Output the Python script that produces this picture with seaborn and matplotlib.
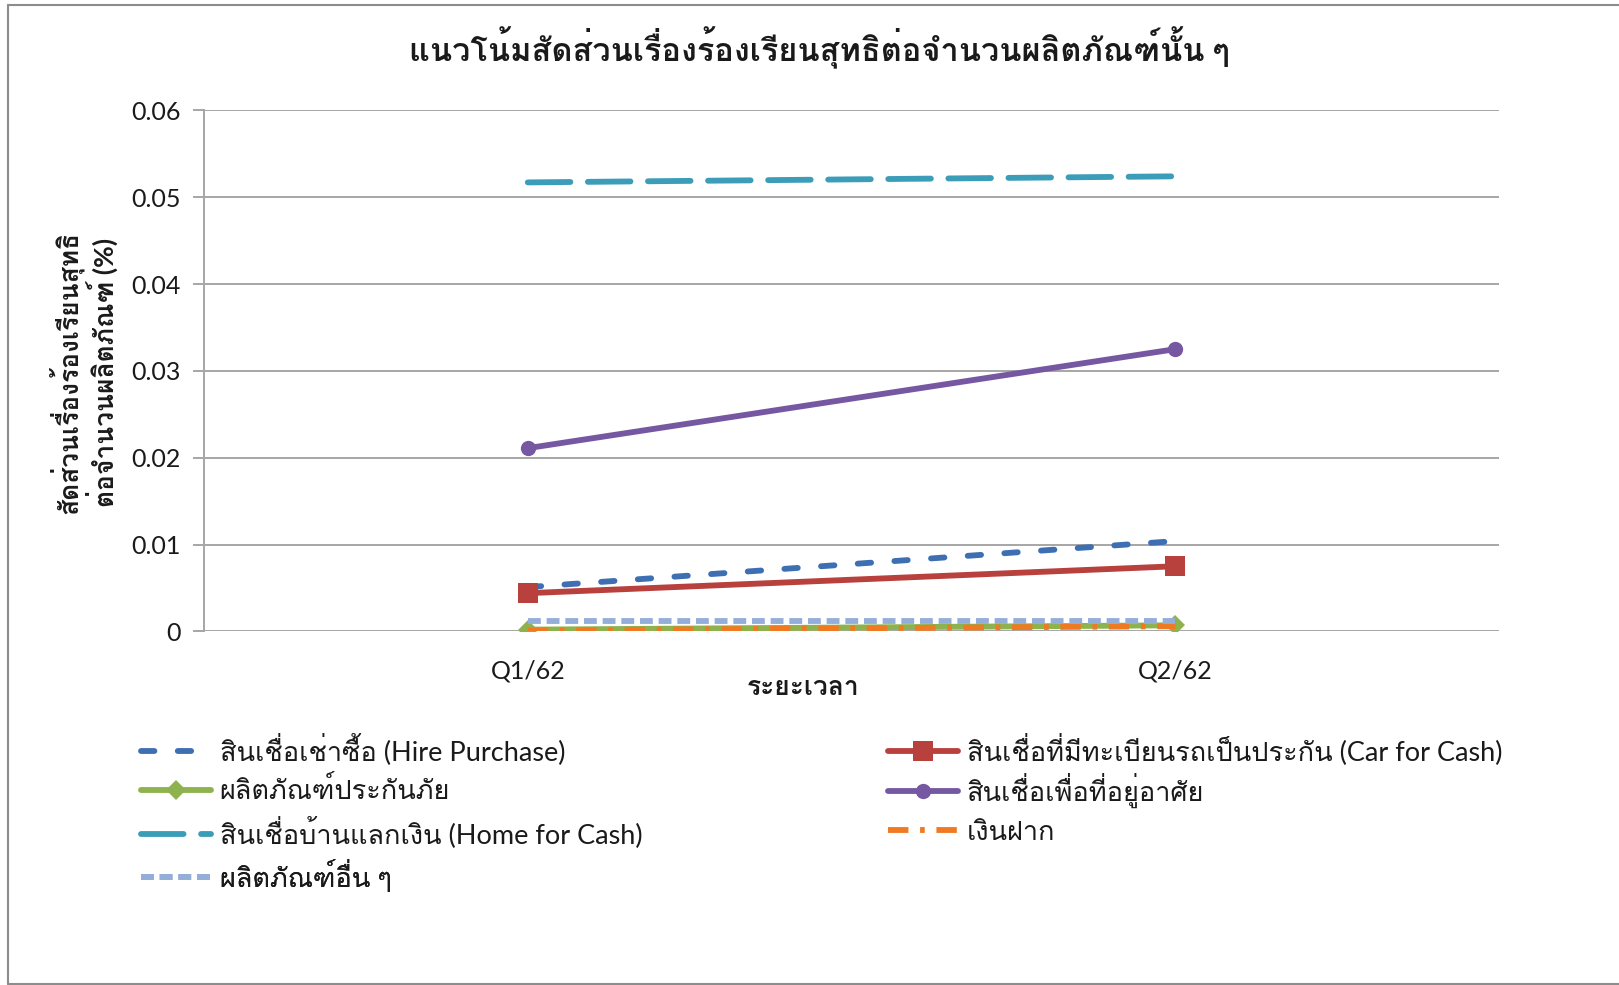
import matplotlib.pyplot as plt
import matplotlib.font_manager as fm
from matplotlib.ft2font import FT2Font
from matplotlib.lines import Line2D
import seaborn as sns


periods = ["Q1/62", "Q2/62"]
hire_purchase = [0.0051, 0.0104]
car_for_cash = [0.0044, 0.0075]
insurance = [0.0002, 0.0007]
housing = [0.0211, 0.0325]
home_for_cash = [0.0517, 0.0524]
deposit = [0.0001, 0.0006]
other = [0.0012, 0.0012]

series_names = [
    "สินเชื่อเช่าซื้อ (Hire Purchase)",
    "สินเชื่อที่มีทะเบียนรถเป็นประกัน (Car for Cash)",
    "ผลิตภัณฑ์ประกันภัย",
    "สินเชื่อเพื่อที่อยู่อาศัย",
    "สินเชื่อบ้านแลกเงิน (Home for Cash)",
    "เงินฝาก",
    "ผลิตภัณฑ์อื่น ๆ",
]
y_ticks = [0, 0.01, 0.02, 0.03, 0.04, 0.05, 0.06]
y_tick_labels = ["0", "0.01", "0.02", "0.03", "0.04", "0.05", "0.06"]

title = "แนวโน้มสัดส่วนเรื่องร้องเรียนสุทธิต่อจำนวนผลิตภัณฑ์นั้น ๆ"
x_title = "ระยะเวลา"
y_title = "สัดส่วนเรื่องร้องเรียนสุทธิ\nต่อจำนวนผลิตภัณฑ์ (%)"


def thai_family():
    # first installed font that has Thai glyphs (Loma here)
    names = [f.name for f in fm.fontManager.ttflist]
    if "Loma" in names:
        return "Loma"
    for f in fm.fontManager.ttflist:
        try:
            if 0x0E01 in FT2Font(f.fname).get_charmap():
                return f.name
        except Exception:
            pass
    return "DejaVu Sans"


sns.set_theme(style="white")
plt.rcParams["font.family"] = ["Lato", thai_family(), "DejaVu Sans"]

fig = plt.figure(figsize=(16.19, 9.85), dpi=100)
ax = fig.add_axes([0.126, 0.359, 0.80, 0.529])

lw = 4.2
styles = [
    dict(color="#3D6FB2", dashes=(2.3, 4.0), dash_capstyle="round"),
    dict(color="#B8403D", marker="s", markersize=15),
    dict(color="#8DB24E", marker="D", markersize=10),
    dict(color="#7658A2", marker="o", markersize=11),
    dict(color="#3C9DB9", dashes=(7.3, 3.0), dash_capstyle="round"),
    dict(color="#F07A22", dashes=(3.5, 2.0, 0.8, 2.0), dash_capstyle="butt"),
    dict(color="#94AEDA", dashes=(2.2, 1.0), dash_capstyle="butt"),
]
data = [hire_purchase, car_for_cash, insurance, housing, home_for_cash, deposit, other]

handles = []
for values, name, st in zip(data, series_names, styles):
    sns.lineplot(x=periods, y=values, ax=ax, linewidth=lw, markeredgewidth=0,
                 legend=False, **st)
    handles.append(Line2D([], [], linewidth=lw, markeredgewidth=0, **st))

ax.set_xlim(-0.5, 1.5)
ax.set_ylim(0, 0.06)
ax.set_yticks(y_ticks)
ax.set_yticklabels(y_tick_labels)
ax.yaxis.grid(True, color="#A6A6A6", linewidth=1.4)
ax.set_axisbelow(True)
for side in ["top", "right", "bottom"]:
    ax.spines[side].set_visible(False)
ax.spines["left"].set_color("#A6A6A6")
ax.spines["left"].set_linewidth(1.4)
ax.tick_params(axis="y", left=True, length=8, width=1.4, color="#A6A6A6",
               labelsize=18, labelcolor="#1A1A1A", pad=9)
ax.tick_params(axis="x", bottom=False, labelsize=18, labelcolor="#1A1A1A", pad=14)
ax.set_xlabel("")
ax.set_ylabel("")

fig.text(0.506, 1 - 48 / 985, title, ha="center", va="center",
         fontsize=23.4, fontweight="bold", color="#1A1A1A")
fig.text(0.496, 1 - 687 / 985, x_title, ha="center", va="center",
         fontsize=19, fontweight="bold", color="#1A1A1A")
fig.text(83 / 1619, 1 - 372 / 985, y_title, ha="center", va="center",
         rotation=90, fontsize=19, fontweight="bold", color="#1A1A1A",
         multialignment="center", linespacing=1.05)

# legend laid out as in the source: two columns, row by row
leg_kw = dict(frameon=False, fontsize=19.5, handlelength=2.6, handletextpad=0.3,
              borderpad=0, borderaxespad=0, labelcolor="#1A1A1A", loc="center left",
              bbox_transform=fig.transFigure)
row_y = [749, 790, 832, 875]
col_x = [141, 888]
slots = [(0, 0), (1, 0), (0, 1), (1, 1), (0, 2), (1, 2), (0, 3)]
for h, name, (c, r) in zip(handles, series_names, slots):
    leg = ax.legend([h], [name], bbox_to_anchor=(col_x[c] / 1619, 1 - row_y[r] / 985),
                    **leg_kw)
    ax.add_artist(leg)

border = dict(color="#8C8C8C", linewidth=1.5, transform=fig.transFigure)
fig.add_artist(Line2D([8 / 1619, 8 / 1619], [1 - 5 / 985, 1 - 984 / 985], **border))
fig.add_artist(Line2D([8 / 1619, 1], [1 - 5 / 985, 1 - 5 / 985], **border))
fig.add_artist(Line2D([8 / 1619, 1], [1 - 984 / 985, 1 - 984 / 985], **border))

fig.savefig("out.png", dpi=100)
